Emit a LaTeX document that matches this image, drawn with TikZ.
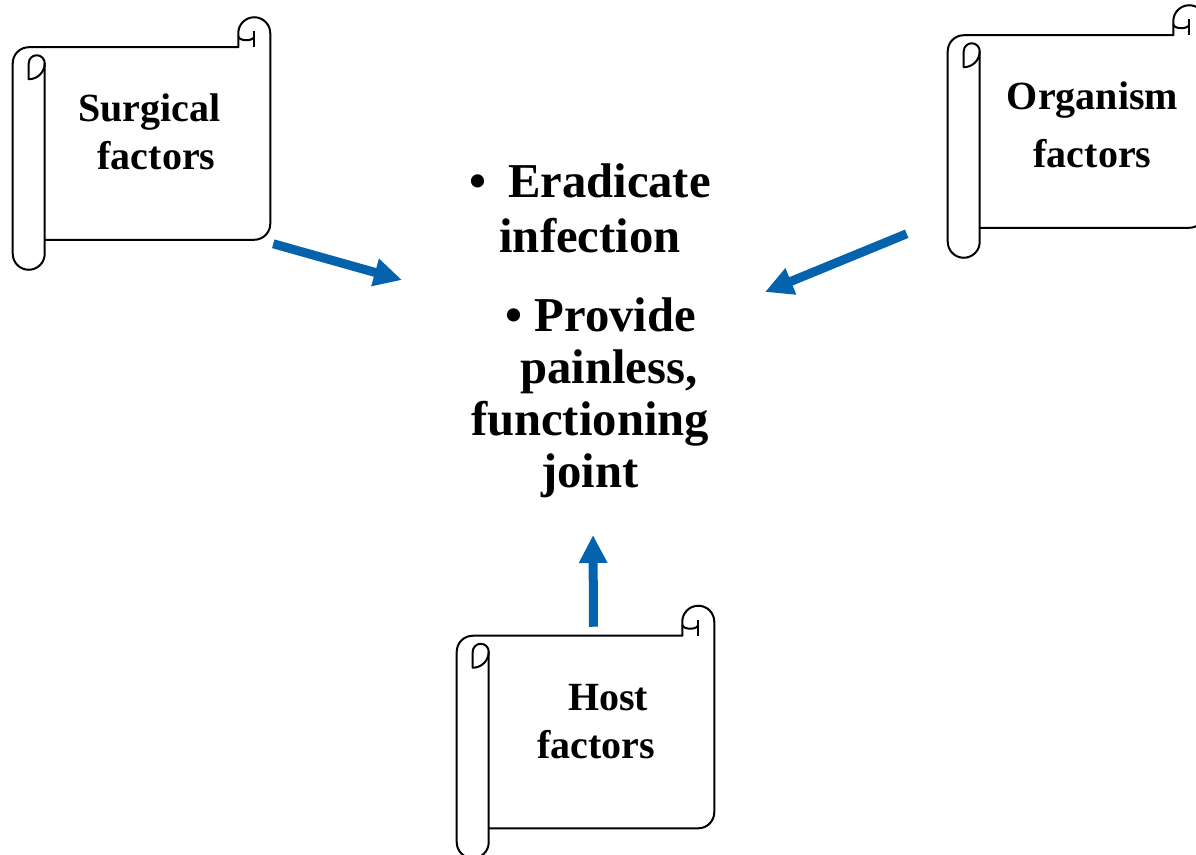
\documentclass[tikz,border=0pt]{standalone}
\usepackage{fontspec}
\setmainfont{Liberation Serif}
\usepackage{tikz}
\usetikzlibrary{arrows.meta, positioning, calc}
\definecolor{arrowblue}{HTML}{0563AD}
\definecolor{scrollink}{HTML}{000000}
\tikzset{
  scrollbody/.style={minimum width=168.75pt, minimum height=144pt, inner sep=0pt},
  scrolltext/.style={align=center, font=\fontsize{30}{36}\selectfont\bfseries, text=black},
  goaltext/.style={align=center, font=\fontsize{36.5}{39}\selectfont\bfseries, text=black},
  scrolledge/.style={draw=scrollink, line width=1.5pt, line join=round},
  flow/.style={-{Triangle[length=21pt, width=20pt]}, draw=arrowblue, line width=6.75pt}
}
% scroll outline round a body node
\newcommand{\drawscroll}[1]{%
  \draw[scrolledge] ($(#1.north west)+(-32,16)$) arc[start angle=180, end angle=270, radius=16]
    -- ($(#1.north east)+(-32,0)$) -- ++(0,-14) arc[start angle=180, end angle=360, radius=16]
    -- ($(#1.south east)+(0,-16)$) arc[start angle=0, end angle=90, radius=16]
    -- (#1.south west);
  \draw[scrolledge] ($(#1.north west)+(-32,16)$) -- ($(#1.south west)+(-32,14)$)
    arc[start angle=180, end angle=0, radius=16] -- ($(#1.north west)+(0,16)$);
  \draw[scrolledge] ($(#1.north west)+(-16,16)$) arc[start angle=180, end angle=360, radius=8]
    arc[start angle=0, end angle=90, radius=16] -- cycle;
  \draw[scrolledge] ($(#1.north east)+(-16,0)$) -- ++(0,-16);
  \draw[scrolledge] ($(#1.north east)+(-16,-11)$) arc[start angle=0, end angle=180, x radius=8, y radius=4];
}

\begin{document}
\begin{tikzpicture}[x=0.75pt, y=-0.75pt]
\useasboundingbox (0,0) rectangle (1196,854);
\node[scrollbody] (surg) at (157.5,143.5) {};
\node[scrollbody] (org) at (1092.5,131.5) {};
\node[scrollbody] (host) at (601.5,732) {};
\drawscroll{surg} \drawscroll{org} \drawscroll{host}
\node[scrolltext] (surgtxt) at ([xshift=-6pt, yshift=8.5pt]surg.center) {Surgical\\\hspace*{10.5pt}factors};
\node[scrolltext] (orgtxt) at ([yshift=5pt]org.center) {Organism\\[7.5pt]factors};
\node[scrolltext] (hosttxt) at ([xshift=-4pt, yshift=7.5pt]host.center) {\hspace*{18pt}Host\\factors};
\node[goaltext, font=\fontsize{36.5}{41}\selectfont\bfseries] (erad) at (590,208.5) {\textbullet\hspace{0.45em}Eradicate\\infection};
\node[goaltext] (prov) at (590,398) {\hspace*{16pt}\textbullet\ Provide\\\hspace*{28pt}painless,\\functioning\\joint};
\coordinate (tipS) at (402,280);
\coordinate (tipO) at (765,292);
\coordinate (tipH) at (593,535);
\draw[flow] ([shift={(3,4)}]surg.south east) -- (tipS);
\draw[flow] ([shift={(-73,6)}]org.south west) -- (tipO);
\draw[flow] ([shift={(-8,-9)}]host.north) -- (tipH);
\end{tikzpicture}
\end{document}
